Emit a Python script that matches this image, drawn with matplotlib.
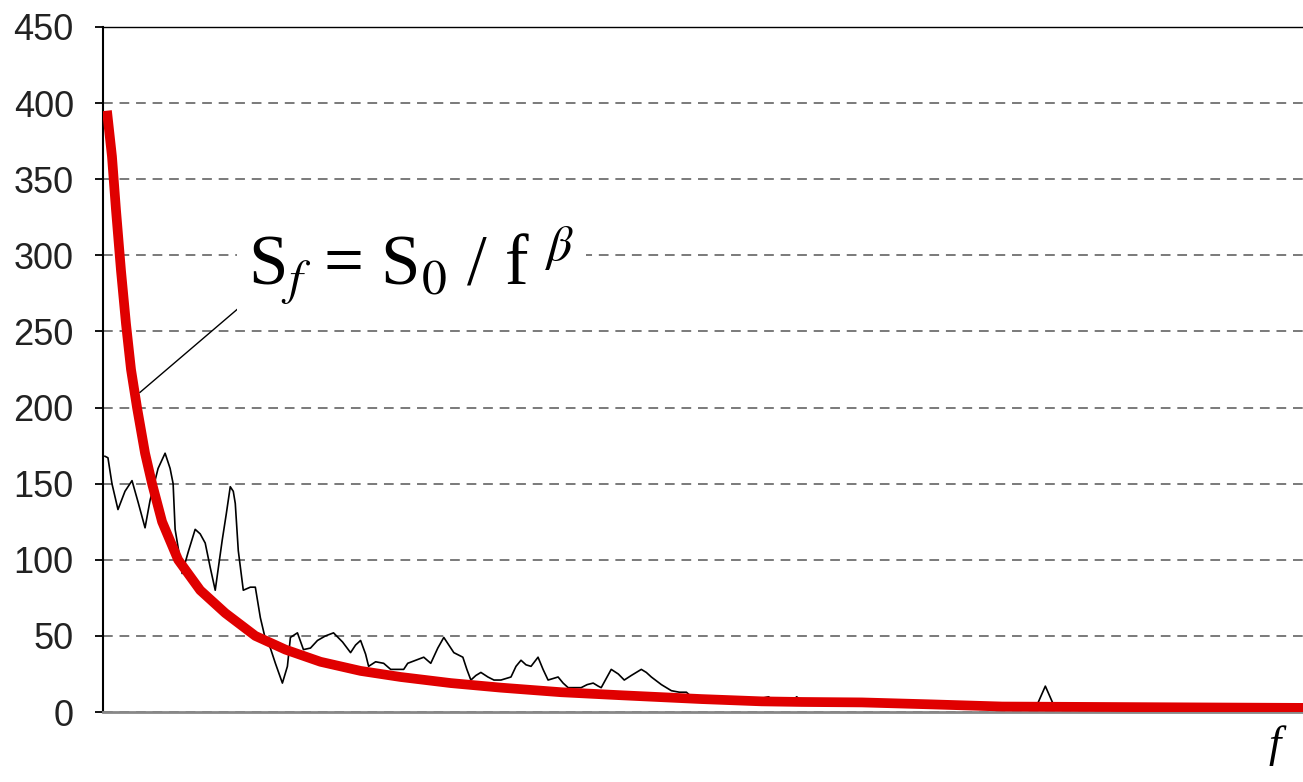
import matplotlib
matplotlib.use("Agg")
import matplotlib.pyplot as plt

plt.rcParams['mathtext.fontset'] = 'stix'

# frequency index (arbitrary units, 0..1200) and spectrum values
noise_f = [2, 5, 9, 15, 22, 29, 35, 42, 47, 55, 62, 67, 70, 72, 77, 79, 85, 92, 97, 102,
           107, 112, 119, 123, 127, 130, 132, 135, 140, 147, 152, 157, 162, 167, 172, 179,
           184, 187, 194, 200, 207, 214, 222, 230, 239, 247, 252, 257, 262, 265, 272, 280,
           287, 300, 304, 312, 320, 327, 334, 340, 345, 350, 359, 363, 367, 372, 377, 384,
           390, 397, 402, 407, 412, 417, 422, 427, 434, 439, 444, 449, 454, 459, 464, 472,
           477, 483, 489, 494, 497, 502, 507, 514, 520, 527, 537, 542, 547, 557, 567, 575,
           582, 587, 592, 597,
           617, 642, 657, 664, 669, 687, 692, 697, 727, 767, 797, 827, 867, 882, 927, 932,
           940, 948, 952, 977, 1017, 1057, 1097, 1147, 1197]
noise_s = [168, 167, 150, 133, 145, 152, 138, 121, 139, 160, 170, 160, 150, 120, 100, 91,
           105, 120, 117, 111, 95, 80, 113, 130, 148, 145, 137, 106, 80, 82, 82, 62, 48, 42,
           32, 19, 30, 49, 52, 41, 42, 47, 50, 52, 46, 39, 44, 47, 38, 30, 33, 32, 28, 28,
           32, 34, 36, 32, 42, 49, 44, 39, 36, 28, 21, 24, 26, 23, 21, 21, 22, 23, 30, 34,
           31, 30, 36, 28, 21, 22, 23, 19, 16, 16, 16, 18, 19, 17, 16, 22, 28, 25, 21, 24,
           28, 26, 23, 18, 14, 13, 13, 10, 8, 7,
           6, 6, 9, 10, 7, 7, 10, 7, 5, 5, 4, 4, 4, 4, 4, 5,
           17, 5, 4, 3, 3, 2.5, 2.5, 2, 2]

fit_f = [4, 9, 13, 18, 23, 28, 34, 42, 49, 59, 75, 97, 122, 152, 182, 217, 257, 297,
         347, 397, 457, 517, 597, 657, 697, 757, 827, 897, 997, 1097, 1200]
fit_s = [395, 365, 330, 290, 255, 225, 200, 170, 150, 125, 100, 80, 65, 50, 41, 33, 27,
         23, 19, 16, 13, 11, 8.5, 7, 6.6, 6.3, 5, 3.6, 3.3, 3, 2.7]

y_ticks = [0, 50, 100, 150, 200, 250, 300, 350, 400, 450]

fig = plt.figure(figsize=(13.03, 7.82), dpi=100)
ax = fig.add_axes([0.079, 0.0895, 0.931, 0.876])

ax.plot(noise_f, noise_s, color='black', lw=1.2, zorder=3)
ax.plot(fit_f, fit_s, color='#e00000', lw=7, solid_capstyle='butt', zorder=4)

# annotation with leader line
ax.plot([37, 149], [210, 273], color='black', lw=1.0, zorder=5)
ax.text(145, 280, r'S$_{f}$ = S$_{\mathit{0}}$ / f $^{\beta}$', fontsize=51,
        family='Liberation Serif', va='baseline', ha='left', zorder=6,
        bbox=dict(facecolor='white', edgecolor='none', pad=8))

ax.set_xlim(0, 1210)
ax.set_ylim(0, 450)
ax.set_yticks(y_ticks)
ax.set_xticks([])
ax.yaxis.grid(True, color='#7a7a7a', lw=1.4, ls=(0, (5, 3.5)))
ax.set_axisbelow(True)

for lab in ax.get_yticklabels():
    lab.set_family('Liberation Sans')
ax.tick_params(axis='y', labelsize=26, length=6, width=1.3, pad=15, colors='black',
               labelcolor='#222222')

ax.spines['right'].set_visible(False)
ax.spines['top'].set_color('black')
ax.spines['top'].set_linewidth(1.0)
ax.spines['left'].set_color('black')
ax.spines['left'].set_linewidth(1.5)
ax.spines['bottom'].set_color('#888888')
ax.spines['bottom'].set_linewidth(2)

fig.text(0.978, 0.032, 'f', fontsize=32, family='Liberation Serif', style='italic',
         ha='center', va='baseline')

fig.savefig('out.png', dpi=100)
